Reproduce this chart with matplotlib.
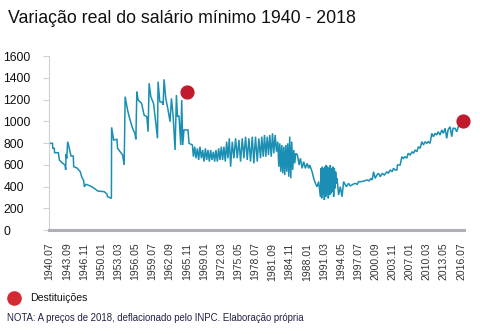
import matplotlib
matplotlib.use('Agg')
import matplotlib.pyplot as plt
from matplotlib.lines import Line2D

# salário mínimo real (R$ de 2018)
anos = [1940.65, 1941.05, 1941.09, 1941.38, 1941.42, 1942.12, 1942.31, 1942.93, 1943.36, 1943.48,
        1943.54, 1943.67, 1943.85, 1944.22, 1944.46, 1944.88, 1944.96, 1945.57, 1946.17, 1946.43,
        1946.80, 1946.91, 1947.22, 1948.02, 1948.75, 1949.38, 1950.60, 1951.09, 1951.22, 1951.92,
        1951.96, 1952.33, 1952.94, 1953.06, 1953.99, 1954.28, 1954.46, 1954.91, 1955.20, 1955.83,
        1956.25, 1956.44, 1956.62, 1956.86, 1957.49, 1957.96, 1958.46, 1958.70, 1958.89, 1959.20,
        1959.70, 1959.99, 1960.43, 1960.54, 1960.86, 1961.32, 1961.47, 1961.65, 1961.96, 1962.39,
        1962.75, 1963.01, 1963.31, 1963.68, 1963.93, 1964.12, 1964.41, 1964.73, 1964.91, 1965.09,
        1965.33, 1966.07, 1966.26, 1966.88, 1967.07,
        1967.31, 1967.54, 1967.80, 1968.04, 1968.28, 1968.54, 1968.78, 1969.02, 1969.28, 1969.52,
        1969.76, 1970.01, 1970.25, 1970.49, 1970.75, 1970.99, 1971.23, 1971.49, 1971.73, 1971.97,
        1972.22, 1972.46, 1972.70, 1972.96, 1973.20, 1973.44, 1973.70, 1973.94, 1974.25, 1974.55,
        1974.86, 1975.17, 1975.47, 1975.78, 1976.09, 1976.39, 1976.70, 1977.01, 1977.31, 1977.62,
        1977.94, 1978.23, 1978.54, 1978.86, 1979.15, 1979.46, 1979.70, 1979.96, 1980.20, 1980.44,
        1980.70, 1980.94, 1981.18, 1981.44, 1981.68, 1981.91, 1982.17, 1982.41,
        1982.65, 1982.84, 1983.02, 1983.20, 1983.39, 1983.57, 1983.76, 1983.94, 1984.13, 1984.31,
        1984.49, 1984.68, 1984.86, 1985.05, 1985.23, 1985.41, 1985.60, 1985.78, 1985.97,
        1986.28, 1986.59, 1986.83, 1987.15, 1987.44, 1987.75, 1988.07, 1988.36, 1988.55, 1988.99,
        1989.28, 1989.60, 1989.91, 1990.20, 1990.52,
        1990.65, 1990.76, 1990.89, 1991.02, 1991.13, 1991.26, 1991.38, 1991.50, 1991.62, 1991.75,
        1991.86, 1991.99, 1992.12, 1992.23, 1992.36, 1992.49, 1992.60, 1992.73, 1992.86, 1992.97,
        1993.10, 1993.23, 1993.34, 1993.47, 1993.60, 1993.89, 1994.20, 1994.52, 1994.81,
        1995.31, 1995.73, 1996.05, 1996.36, 1996.60, 1996.97, 1997.33, 1997.57, 1998.20, 1998.62,
        1999.12, 1999.49, 1999.86, 2000.10, 2000.34, 2000.65, 2000.96, 2001.26, 2001.57, 2001.94,
        2002.31, 2002.81, 2003.05, 2003.41, 2003.78, 2004.02, 2004.34, 2004.65, 2004.76, 2005.26,
        2005.57, 2005.86, 2006.18, 2006.49, 2006.73, 2007.10, 2007.47, 2007.71, 2008.02, 2008.33,
        2008.63, 2008.94, 2009.26, 2009.55, 2009.86, 2010.17, 2010.42, 2010.78, 2011.10, 2011.39,
        2011.71, 2012.02, 2012.26, 2012.62, 2012.94, 2013.23, 2013.55, 2013.86, 2014.10, 2014.47,
        2014.78, 2015.02, 2015.39, 2015.70, 2016.00, 2016.31, 2016.59, 2016.81]
salario = [797, 797, 751, 751, 711, 711, 644, 613, 598, 552,
           699, 659, 812, 736, 680, 680, 582, 570, 536, 490,
           453, 398, 420, 405, 383, 359, 352, 331, 306, 291,
           944, 828, 834, 751, 690, 598, 1226, 1103, 1042, 935,
           889, 834, 1272, 1195, 1165, 1057, 1042, 904, 1349, 1226,
           1165, 1042, 843, 1364, 1180, 1175, 1150, 1386, 1211, 1103,
           996, 1211, 1057, 736, 1241, 1042, 1050, 782, 1195, 782,
           920, 920, 797, 782, 674,
           766, 660, 751, 644, 766, 660, 736, 629, 751, 644,
           736, 629, 736, 644, 720, 629, 736, 629, 751, 644,
           766, 644, 766, 629, 812, 660, 843, 582, 812, 660,
           843, 660, 828, 629, 843, 660, 858, 644, 843, 629,
           858, 613, 858, 629, 843, 660, 858, 674, 874, 674,
           858, 690, 874, 674, 889, 705, 874, 720,
           812, 582, 797, 536, 782, 521, 766, 506, 782, 536,
           797, 490, 858, 475, 812, 552, 736, 613, 705,
           690, 598, 660, 567, 629, 567, 613, 567, 598, 536,
           475, 429, 398, 445, 306,
           567, 291, 582, 322, 567, 276, 582, 306, 598, 337,
           582, 291, 567, 322, 598, 337, 567, 352, 582, 306,
           567, 383, 536, 429, 475, 322, 398, 306, 445,
           398, 429, 406, 414, 422, 429, 420, 445, 445, 452,
           460, 452, 475, 460, 536, 475, 506, 521, 490, 521,
           506, 536, 521, 552, 536, 567, 552, 552, 598, 598,
           674, 659, 674, 660, 705, 690, 720, 705, 736, 720,
           766, 751, 812, 782, 812, 797, 812, 797, 889, 858,
           889, 874, 904, 874, 920, 889, 935, 843, 920, 950,
           858, 935, 935, 904, 950, 966, 950, 956]

# destituições presidenciais
dest_anos = [1965.83, 2016.85]
dest_valores = [1272, 1002]

tick_pos = [1940.5 + k * 38 / 12 for k in range(25)]
tick_labels = ['1940.07', '1943.09', '1946.11', '1950.01', '1953.03', '1956.05', '1959.07',
               '1962.09', '1965.11', '1969.01', '1972.03', '1975.05', '1978.07', '1981.09',
               '1984.11', '1988.01', '1991.03', '1994.05', '1997.07', '2000.09', '2003.11',
               '2007.01', '2010.03', '2013.05', '2016.07']
y_ticks = [0, 200, 400, 600, 800, 1000, 1200, 1400, 1600]

plt.rcParams['font.family'] = ['Liberation Sans', 'DejaVu Sans']

fig = plt.figure(figsize=(4.8, 3.33), dpi=100)
ax = fig.add_axes([0.1027, 0.3093, 0.8640, 0.5225])

ax.plot(anos, salario, color='#1a8fb3', lw=1.1, solid_joinstyle='miter')
ax.scatter(dest_anos, dest_valores, s=85, color='#c01a2c', zorder=5, clip_on=False)

ax.set_xlim(1940.45, 2017.05)
ax.set_ylim(0, 1600)
ax.set_xticks(tick_pos)
ax.set_xticklabels(tick_labels, rotation=90, fontsize=7.5, color='#333333')
ax.set_yticks(y_ticks)
ax.set_yticklabels([str(v) for v in y_ticks], fontsize=8.8, ha='left', color='#111111')
ax.tick_params(axis='x', length=0, pad=9)
ax.tick_params(axis='y', length=4, color='#d0d0d0', pad=29)

for s in ['top', 'right']:
    ax.spines[s].set_visible(False)
ax.spines['left'].set_color('#d0d0d0')
ax.spines['left'].set_linewidth(0.8)
ax.spines['bottom'].set_color('#b0b0b4')
ax.spines['bottom'].set_linewidth(2.2)

fig.text(0.016, 0.93, 'Variação real do salário mínimo 1940 - 2018', fontsize=12.8,
         color='#111111', va='baseline')

fig.add_artist(Line2D([14 / 480], [1 - 298 / 333], marker='o', markersize=9.5, ls='none',
                      color='#d42a32', transform=fig.transFigure))
fig.text(0.0625, 1 - 298 / 333, 'Destituições', fontsize=7.6, va='center', color='#111111')
fig.text(0.0146, 1 - 318 / 333, 'NOTA: A preços de 2018, deflacionado pelo INPC. Elaboração própria',
         fontsize=6.9, va='center', color='#222244')

fig.savefig('out.png', dpi=100)
